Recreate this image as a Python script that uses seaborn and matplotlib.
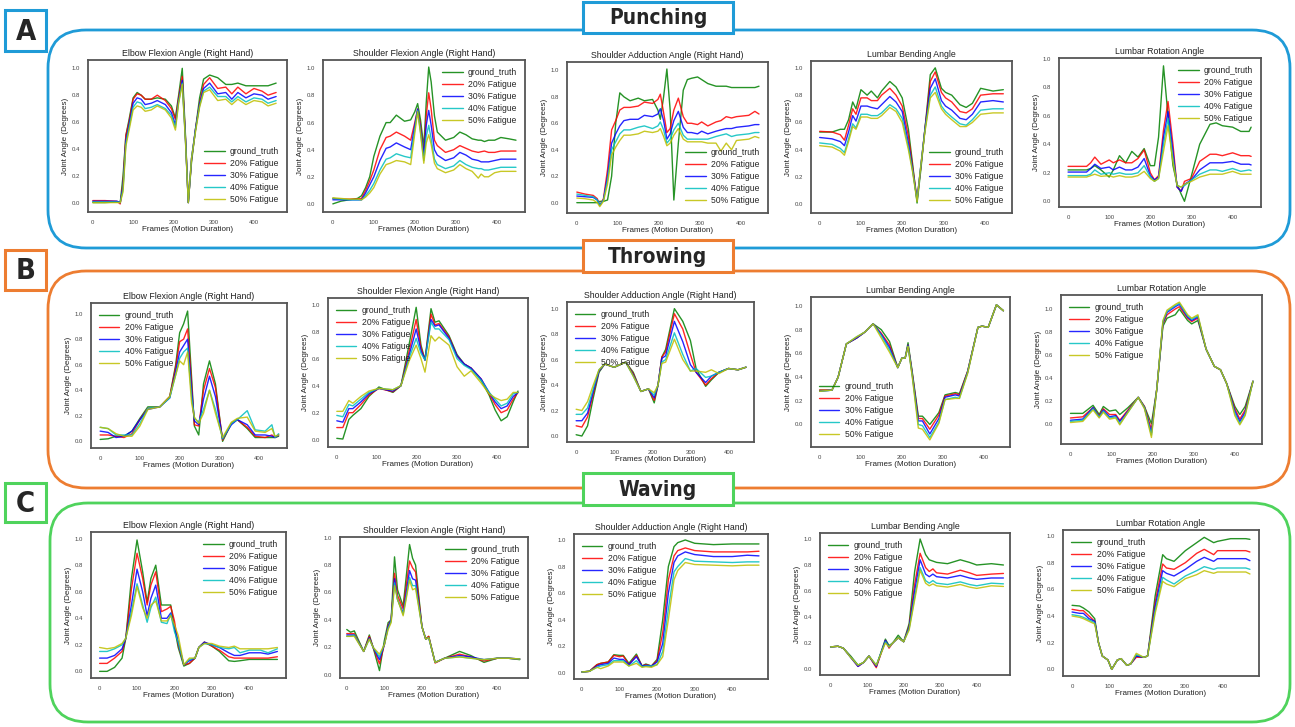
import numpy as np
import pandas as pd
import matplotlib
matplotlib.use("Agg")
import matplotlib.pyplot as plt
import seaborn as sns
from matplotlib.patches import FancyBboxPatch, Rectangle

# series shared by every panel
series_names = ["ground_truth", "20% Fatigue", "30% Fatigue", "40% Fatigue", "50% Fatigue"]
series_colors = ["green", "red", "blue", "c", "y"]
panel_titles = ["Elbow Flexion Angle (Right Hand)", "Shoulder Flexion Angle (Right Hand)",
                "Shoulder Adduction Angle (Right Hand)", "Lumbar Bending Angle", "Lumbar Rotation Angle"]
row_names = ["Punching", "Throwing", "Waving"]
row_letters = ["A", "B", "C"]

# ---------------- A: Punching ----------------
a1_x = [0, 30, 60, 68, 75, 82, 90, 100, 110, 120, 130, 145, 160, 180, 195, 205, 213, 222, 230, 237,
        245, 255, 265, 275, 290, 310, 330, 345, 360, 380, 400, 420, 435, 455]
a1_gt = [0.0, 0.0, 0.005, 0.0, 0.2, 0.5, 0.62, 0.78, 0.82, 0.80, 0.77, 0.77, 0.78, 0.77, 0.72, 0.63, 0.8, 1.0, 0.5, 0.0,
         0.3, 0.55, 0.78, 0.92, 0.95, 0.93, 0.88, 0.88, 0.89, 0.87, 0.87, 0.87, 0.87, 0.89]
a1_f20 = [0.015, 0.015, 0.01, -0.01, 0.15, 0.5, 0.6, 0.77, 0.81, 0.80, 0.77, 0.77, 0.80, 0.76, 0.70, 0.62, 0.78, 0.94, 0.48, 0.0,
          0.32, 0.55, 0.74, 0.88, 0.93, 0.85, 0.86, 0.81, 0.86, 0.81, 0.85, 0.83, 0.80, 0.82]
a1_f30 = [0.01, 0.01, 0.01, 0.0, 0.12, 0.46, 0.58, 0.74, 0.78, 0.77, 0.73, 0.74, 0.76, 0.73, 0.67, 0.58, 0.76, 0.91, 0.47, 0.0,
          0.33, 0.55, 0.73, 0.85, 0.89, 0.81, 0.82, 0.77, 0.82, 0.78, 0.81, 0.80, 0.77, 0.79]
a1_f40 = [0.005, 0.005, 0.005, 0.0, 0.10, 0.44, 0.56, 0.71, 0.75, 0.74, 0.70, 0.71, 0.73, 0.70, 0.65, 0.56, 0.75, 0.89, 0.46, 0.0,
          0.33, 0.54, 0.72, 0.83, 0.86, 0.79, 0.79, 0.75, 0.79, 0.75, 0.78, 0.77, 0.74, 0.76]
a1_f50 = [0.0, 0.0, 0.0, 0.0, 0.08, 0.42, 0.54, 0.69, 0.72, 0.71, 0.68, 0.69, 0.72, 0.69, 0.63, 0.54, 0.74, 0.88, 0.45, 0.0,
          0.33, 0.53, 0.71, 0.82, 0.84, 0.76, 0.77, 0.73, 0.77, 0.73, 0.76, 0.75, 0.72, 0.74]

a2_x = [0, 20, 40, 60, 70, 80, 90, 100, 115, 130, 140, 155, 175, 190, 200, 207, 214, 222, 228, 234,
        240, 248, 255, 275, 295, 310, 325, 340, 355, 362, 370, 380, 395, 410, 430, 447]
a2_gt = [0.0, 0.02, 0.03, 0.04, 0.06, 0.12, 0.20, 0.35, 0.50, 0.60, 0.60, 0.655, 0.61, 0.62, 0.68, 0.74, 0.62, 0.42, 0.75, 1.01,
         0.90, 0.65, 0.53, 0.47, 0.49, 0.53, 0.51, 0.48, 0.47, 0.47, 0.46, 0.47, 0.47, 0.49, 0.48, 0.47]
a2_f20 = [0.04, 0.035, 0.035, 0.035, 0.04, 0.10, 0.17, 0.25, 0.40, 0.49, 0.50, 0.53, 0.50, 0.47, 0.60, 0.70, 0.58, 0.36, 0.65, 0.82,
          0.70, 0.47, 0.43, 0.38, 0.40, 0.43, 0.41, 0.39, 0.38, 0.385, 0.39, 0.38, 0.38, 0.39, 0.39, 0.39]
a2_f30 = [0.03, 0.03, 0.03, 0.03, 0.03, 0.08, 0.14, 0.20, 0.32, 0.41, 0.42, 0.45, 0.42, 0.40, 0.58, 0.70, 0.55, 0.36, 0.58, 0.69,
          0.58, 0.40, 0.36, 0.32, 0.34, 0.38, 0.36, 0.33, 0.32, 0.31, 0.31, 0.31, 0.32, 0.33, 0.33, 0.33]
a2_f40 = [0.04, 0.035, 0.03, 0.03, 0.03, 0.06, 0.10, 0.15, 0.25, 0.33, 0.34, 0.37, 0.35, 0.34, 0.55, 0.69, 0.53, 0.32, 0.50, 0.58,
          0.48, 0.33, 0.29, 0.26, 0.28, 0.32, 0.29, 0.27, 0.26, 0.26, 0.25, 0.25, 0.26, 0.27, 0.27, 0.27]
a2_f50 = [0.045, 0.04, 0.035, 0.035, 0.03, 0.05, 0.08, 0.12, 0.22, 0.29, 0.30, 0.32, 0.31, 0.29, 0.52, 0.68, 0.52, 0.30, 0.45, 0.51,
          0.44, 0.30, 0.26, 0.23, 0.25, 0.29, 0.26, 0.24, 0.19, 0.22, 0.20, 0.20, 0.23, 0.24, 0.24, 0.24]

a3_x = [0, 20, 40, 50, 56, 65, 75, 85, 95, 105, 115, 130, 150, 165, 185, 198, 204, 212, 220, 228,
        237, 248, 260, 270, 280, 295, 305, 320, 340, 352, 365, 378, 390, 420, 435, 445]
a3_gt = [0.0, 0.0, 0.0, 0.0, 0.01, 0.01, 0.02, 0.20, 0.60, 0.83, 0.80, 0.77, 0.79, 0.77, 0.78, 0.70, 0.63, 0.80, 1.01, 0.70,
         0.02, 0.45, 0.85, 0.93, 0.94, 0.95, 0.93, 0.90, 0.88, 0.88, 0.88, 0.87, 0.87, 0.87, 0.87, 0.88]
a3_f20 = [0.08, 0.065, 0.055, 0.03, -0.02, 0.03, 0.25, 0.55, 0.62, 0.70, 0.72, 0.72, 0.73, 0.76, 0.75, 0.78, 0.82, 0.68, 0.53, 0.56,
          0.70, 0.79, 0.65, 0.60, 0.60, 0.59, 0.61, 0.58, 0.61, 0.62, 0.65, 0.64, 0.65, 0.66, 0.69, 0.67]
a3_f30 = [0.05, 0.045, 0.04, 0.02, -0.02, 0.02, 0.20, 0.45, 0.52, 0.58, 0.62, 0.63, 0.63, 0.66, 0.65, 0.67, 0.71, 0.62, 0.48, 0.52,
          0.62, 0.69, 0.57, 0.53, 0.53, 0.52, 0.54, 0.52, 0.54, 0.55, 0.56, 0.56, 0.57, 0.58, 0.59, 0.59]
a3_f40 = [0.065, 0.055, 0.045, 0.02, -0.02, 0.02, 0.17, 0.40, 0.46, 0.52, 0.55, 0.55, 0.57, 0.58, 0.56, 0.58, 0.61, 0.55, 0.45, 0.48,
          0.55, 0.60, 0.51, 0.48, 0.48, 0.48, 0.48, 0.48, 0.50, 0.51, 0.52, 0.50, 0.51, 0.52, 0.53, 0.53]
a3_f50 = [0.035, 0.03, 0.02, 0.0, -0.03, 0.01, 0.14, 0.36, 0.42, 0.47, 0.51, 0.51, 0.52, 0.54, 0.53, 0.54, 0.56, 0.50, 0.43, 0.45,
          0.51, 0.56, 0.48, 0.46, 0.46, 0.46, 0.46, 0.45, 0.45, 0.39, 0.45, 0.40, 0.47, 0.48, 0.50, 0.49]

a4_x = [0, 30, 50, 60, 70, 80, 88, 100, 115, 125, 140, 150, 170, 185, 200, 215, 225, 236, 245, 255,
        268, 280, 295, 305, 320, 340, 355, 370, 390, 420, 445]
a4_gt = [0.53, 0.53, 0.55, 0.55, 0.62, 0.75, 0.70, 0.84, 0.80, 0.83, 0.78, 0.83, 0.90, 0.86, 0.78, 0.55, 0.30, 0.01, 0.25, 0.55,
         0.95, 1.0, 0.85, 0.82, 0.80, 0.73, 0.71, 0.74, 0.85, 0.83, 0.84]
a4_f20 = [0.535, 0.53, 0.51, 0.47, 0.58, 0.70, 0.66, 0.78, 0.78, 0.76, 0.76, 0.80, 0.85, 0.80, 0.72, 0.50, 0.28, 0.04, 0.27, 0.55,
          0.90, 0.97, 0.82, 0.78, 0.75, 0.68, 0.67, 0.70, 0.80, 0.81, 0.81]
a4_f30 = [0.49, 0.48, 0.46, 0.43, 0.53, 0.65, 0.61, 0.72, 0.72, 0.71, 0.70, 0.73, 0.79, 0.75, 0.68, 0.45, 0.26, 0.03, 0.28, 0.55,
          0.85, 0.92, 0.76, 0.72, 0.69, 0.63, 0.62, 0.66, 0.75, 0.76, 0.75]
a4_f40 = [0.45, 0.44, 0.41, 0.38, 0.48, 0.59, 0.56, 0.66, 0.66, 0.65, 0.65, 0.67, 0.73, 0.70, 0.63, 0.42, 0.25, 0.03, 0.28, 0.54,
          0.80, 0.86, 0.72, 0.68, 0.64, 0.59, 0.58, 0.62, 0.69, 0.70, 0.70]
a4_f50 = [0.43, 0.42, 0.39, 0.36, 0.46, 0.57, 0.55, 0.64, 0.64, 0.63, 0.63, 0.65, 0.71, 0.68, 0.60, 0.40, 0.24, 0.02, 0.28, 0.53,
          0.78, 0.82, 0.70, 0.66, 0.62, 0.57, 0.57, 0.60, 0.66, 0.67, 0.67]

a5_x = [0, 45, 55, 65, 80, 100, 110, 125, 140, 155, 170, 185, 200, 210, 220, 232, 243, 255, 265, 275,
        283, 300, 320, 345, 360, 375, 400, 420, 440, 445]
a5_gt = [0.22, 0.22, 0.23, 0.25, 0.22, 0.17, 0.22, 0.32, 0.27, 0.35, 0.31, 0.37, 0.25, 0.25, 0.45, 0.95, 0.60, 0.25, 0.12, 0.05,
         0.0, 0.18, 0.40, 0.54, 0.55, 0.53, 0.52, 0.49, 0.49, 0.52]
a5_f20 = [0.245, 0.245, 0.27, 0.31, 0.26, 0.29, 0.27, 0.29, 0.27, 0.27, 0.30, 0.36, 0.20, 0.15, 0.18, 0.50, 0.70, 0.40, 0.10, 0.07,
          0.14, 0.16, 0.28, 0.33, 0.33, 0.32, 0.34, 0.32, 0.32, 0.315]
a5_f30 = [0.205, 0.205, 0.23, 0.26, 0.23, 0.24, 0.22, 0.24, 0.22, 0.22, 0.24, 0.30, 0.18, 0.15, 0.17, 0.45, 0.63, 0.35, 0.10, 0.07,
          0.12, 0.15, 0.22, 0.27, 0.27, 0.27, 0.28, 0.26, 0.26, 0.255]
a5_f40 = [0.18, 0.18, 0.19, 0.22, 0.19, 0.20, 0.19, 0.20, 0.19, 0.19, 0.20, 0.25, 0.17, 0.14, 0.16, 0.40, 0.58, 0.30, 0.11, 0.10,
          0.11, 0.15, 0.19, 0.22, 0.22, 0.21, 0.23, 0.21, 0.22, 0.215]
a5_f50 = [0.17, 0.17, 0.18, 0.19, 0.175, 0.18, 0.17, 0.18, 0.17, 0.17, 0.18, 0.21, 0.16, 0.14, 0.16, 0.35, 0.53, 0.28, 0.11, 0.10,
          0.12, 0.14, 0.17, 0.19, 0.19, 0.19, 0.21, 0.19, 0.19, 0.19]

# ---------------- B: Throwing ----------------
b1_x = [0, 20, 40, 60, 80, 100, 120, 150, 175, 190, 200, 210, 220, 230, 237, 248, 260, 275, 290, 308,
        330, 345, 370, 390, 415, 432, 440, 449]
b1_gt = [0.015, 0.02, 0.04, 0.04, 0.08, 0.18, 0.27, 0.27, 0.35, 0.60, 0.85, 0.92, 1.02, 0.50, 0.12, 0.05, 0.45, 0.63, 0.45, 0.0,
         0.14, 0.17, 0.10, 0.03, 0.03, 0.03, 0.03, 0.04]
b1_f20 = [0.05, 0.05, 0.04, 0.03, 0.06, 0.17, 0.26, 0.27, 0.35, 0.58, 0.78, 0.80, 0.88, 0.45, 0.13, 0.12, 0.40, 0.57, 0.42, 0.01,
          0.14, 0.17, 0.11, 0.04, 0.03, 0.05, 0.03, 0.05]
b1_f30 = [0.08, 0.07, 0.03, 0.04, 0.08, 0.17, 0.25, 0.27, 0.34, 0.55, 0.70, 0.75, 0.80, 0.40, 0.16, 0.13, 0.33, 0.51, 0.35, 0.02,
          0.13, 0.17, 0.13, 0.05, 0.05, 0.04, 0.03, 0.05]
b1_f40 = [0.11, 0.10, 0.05, 0.05, 0.05, 0.14, 0.26, 0.27, 0.34, 0.52, 0.65, 0.70, 0.73, 0.35, 0.18, 0.15, 0.25, 0.40, 0.25, 0.02,
          0.14, 0.17, 0.24, 0.09, 0.08, 0.13, 0.03, 0.06]
b1_f50 = [0.11, 0.10, 0.06, 0.04, 0.04, 0.12, 0.25, 0.27, 0.35, 0.52, 0.63, 0.60, 0.70, 0.30, 0.19, 0.14, 0.22, 0.40, 0.22, 0.03,
          0.15, 0.18, 0.19, 0.08, 0.07, 0.10, 0.04, 0.05]

b2_x = [0, 15, 30, 40, 60, 80, 105, 140, 160, 180, 198, 210, 220, 235, 245, 255, 280, 300, 318, 335,
        360, 380, 395, 410, 425, 440, 452]
b2_gt = [0.01, 0.005, 0.15, 0.18, 0.23, 0.32, 0.39, 0.35, 0.40, 0.70, 0.98, 0.70, 0.59, 0.97, 0.87, 0.88, 0.77, 0.63, 0.56, 0.53,
         0.44, 0.33, 0.22, 0.14, 0.17, 0.28, 0.36]
b2_f20 = [0.09, 0.09, 0.20, 0.20, 0.26, 0.33, 0.38, 0.355, 0.40, 0.65, 0.89, 0.68, 0.59, 0.93, 0.85, 0.86, 0.76, 0.62, 0.56, 0.53,
          0.45, 0.34, 0.26, 0.20, 0.22, 0.30, 0.35]
b2_f30 = [0.14, 0.13, 0.23, 0.23, 0.28, 0.34, 0.38, 0.36, 0.40, 0.62, 0.82, 0.66, 0.59, 0.89, 0.84, 0.85, 0.75, 0.62, 0.56, 0.53,
          0.45, 0.35, 0.28, 0.23, 0.25, 0.32, 0.35]
b2_f40 = [0.18, 0.17, 0.26, 0.25, 0.30, 0.35, 0.38, 0.37, 0.40, 0.60, 0.75, 0.64, 0.59, 0.87, 0.82, 0.82, 0.74, 0.60, 0.55, 0.52,
          0.44, 0.35, 0.30, 0.25, 0.27, 0.34, 0.35]
b2_f50 = [0.21, 0.21, 0.29, 0.27, 0.32, 0.36, 0.38, 0.37, 0.40, 0.58, 0.70, 0.60, 0.50, 0.77, 0.73, 0.76, 0.70, 0.54, 0.47, 0.51,
          0.42, 0.34, 0.31, 0.29, 0.30, 0.35, 0.35]

b3_x = [0, 15, 30, 45, 60, 75, 100, 130, 150, 170, 190, 205, 215, 225, 235, 258, 280, 300, 315, 340,
        355, 375, 400, 425, 446]
b3_gt = [0.01, 0.0, 0.08, 0.30, 0.50, 0.565, 0.54, 0.58, 0.50, 0.35, 0.37, 0.26, 0.40, 0.62, 0.68, 1.0, 0.90, 0.75, 0.53, 0.39,
         0.44, 0.50, 0.53, 0.52, 0.54]
b3_f20 = [0.08, 0.07, 0.15, 0.33, 0.51, 0.565, 0.54, 0.58, 0.49, 0.35, 0.37, 0.28, 0.40, 0.62, 0.66, 0.96, 0.84, 0.64, 0.50, 0.40,
          0.45, 0.50, 0.53, 0.52, 0.54]
b3_f30 = [0.12, 0.12, 0.18, 0.35, 0.51, 0.565, 0.54, 0.58, 0.48, 0.35, 0.37, 0.30, 0.40, 0.61, 0.63, 0.90, 0.74, 0.56, 0.50, 0.42,
          0.47, 0.50, 0.53, 0.52, 0.54]
b3_f40 = [0.17, 0.17, 0.22, 0.37, 0.52, 0.565, 0.54, 0.58, 0.47, 0.35, 0.37, 0.32, 0.40, 0.58, 0.60, 0.81, 0.64, 0.51, 0.53, 0.46,
          0.47, 0.50, 0.53, 0.52, 0.54]
b3_f50 = [0.21, 0.20, 0.27, 0.40, 0.52, 0.565, 0.54, 0.58, 0.47, 0.35, 0.37, 0.34, 0.40, 0.57, 0.58, 0.76, 0.60, 0.51, 0.51, 0.50,
          0.52, 0.49, 0.53, 0.52, 0.54]

b4_x = [0, 30, 45, 65, 90, 110, 130, 150, 170, 190, 200, 208, 215, 225, 240, 250, 268, 290, 305, 330,
        340, 360, 385, 395, 410, 430, 447]
b4_gt = [0.29, 0.29, 0.40, 0.68, 0.73, 0.78, 0.85, 0.80, 0.70, 0.48, 0.56, 0.56, 0.69, 0.45, 0.07, 0.07, 0.0, 0.10, 0.25, 0.27,
         0.26, 0.45, 0.82, 0.83, 0.82, 1.01, 0.96]
b4_f20 = [0.29, 0.29, 0.40, 0.68, 0.73, 0.78, 0.85, 0.77, 0.67, 0.48, 0.56, 0.56, 0.67, 0.44, 0.05, 0.05, -0.04, 0.08, 0.24, 0.26,
          0.25, 0.45, 0.82, 0.83, 0.82, 1.01, 0.96]
b4_f30 = [0.28, 0.29, 0.40, 0.68, 0.73, 0.78, 0.85, 0.76, 0.65, 0.48, 0.56, 0.56, 0.67, 0.43, 0.03, 0.03, -0.08, 0.05, 0.23, 0.25,
          0.24, 0.44, 0.82, 0.83, 0.82, 1.01, 0.96]
b4_f40 = [0.28, 0.29, 0.40, 0.68, 0.74, 0.78, 0.85, 0.75, 0.63, 0.48, 0.56, 0.56, 0.66, 0.42, 0.0, -0.01, -0.11, 0.02, 0.21, 0.23,
          0.22, 0.44, 0.82, 0.83, 0.82, 1.01, 0.96]
b4_f50 = [0.28, 0.29, 0.40, 0.68, 0.74, 0.78, 0.85, 0.73, 0.61, 0.48, 0.56, 0.56, 0.66, 0.41, -0.03, -0.04, -0.13, 0.01, 0.21, 0.22,
          0.22, 0.43, 0.82, 0.83, 0.82, 1.01, 0.96]

b5_x = [0, 30, 55, 70, 80, 95, 110, 120, 140, 165, 180, 197, 210, 225, 235, 255, 265, 285, 295, 310,
        330, 350, 365, 380, 400, 412, 425, 444]
b5_gt = [0.09, 0.09, 0.16, 0.08, 0.15, 0.11, 0.12, 0.08, 0.14, 0.23, 0.15, 0.0, 0.30, 0.85, 0.92, 0.95, 1.0, 0.90, 0.87, 0.90,
         0.65, 0.50, 0.47, 0.35, 0.15, 0.08, 0.15, 0.37]
b5_f20 = [0.05, 0.06, 0.14, 0.07, 0.13, 0.08, 0.08, 0.03, 0.12, 0.23, 0.15, -0.05, 0.30, 0.87, 0.95, 1.0, 1.02, 0.92, 0.89, 0.92,
          0.65, 0.50, 0.47, 0.35, 0.13, 0.04, 0.12, 0.37]
b5_f30 = [0.03, 0.04, 0.14, 0.06, 0.12, 0.06, 0.07, 0.02, 0.11, 0.23, 0.14, -0.08, 0.30, 0.88, 0.97, 1.02, 1.04, 0.93, 0.90, 0.93,
          0.65, 0.50, 0.47, 0.35, 0.11, 0.02, 0.10, 0.37]
b5_f40 = [0.02, 0.03, 0.13, 0.06, 0.11, 0.05, 0.06, 0.0, 0.10, 0.23, 0.14, -0.10, 0.30, 0.89, 0.98, 1.03, 1.05, 0.94, 0.91, 0.94,
          0.65, 0.50, 0.47, 0.35, 0.09, 0.0, 0.08, 0.37]
b5_f50 = [0.01, 0.02, 0.12, 0.05, 0.10, 0.04, 0.05, -0.01, 0.10, 0.23, 0.13, -0.12, 0.30, 0.90, 0.99, 1.04, 1.06, 0.95, 0.92, 0.95,
          0.65, 0.50, 0.47, 0.35, 0.07, -0.01, 0.07, 0.37]

# ---------------- C: Waving ----------------
c1_x = [0, 20, 40, 60, 70, 85, 100, 115, 127, 137, 150, 165, 180, 190, 200, 210, 225, 240, 255, 265,
        280, 300, 320, 345, 360, 375, 400, 430, 450, 475]
c1_gt = [0.0, 0.0, 0.03, 0.10, 0.25, 0.70, 0.99, 0.75, 0.52, 0.70, 0.80, 0.50, 0.50, 0.50, 0.33, 0.18, 0.04, 0.06, 0.10, 0.18,
         0.22, 0.19, 0.15, 0.08, 0.075, 0.08, 0.09, 0.09, 0.09, 0.09]
c1_f20 = [0.06, 0.06, 0.10, 0.15, 0.25, 0.62, 0.89, 0.70, 0.50, 0.65, 0.75, 0.45, 0.47, 0.49, 0.38, 0.20, 0.05, 0.06, 0.10, 0.18,
          0.22, 0.19, 0.16, 0.11, 0.10, 0.10, 0.10, 0.10, 0.10, 0.11]
c1_f30 = [0.10, 0.10, 0.12, 0.17, 0.25, 0.50, 0.77, 0.60, 0.42, 0.55, 0.65, 0.40, 0.40, 0.44, 0.33, 0.22, 0.05, 0.08, 0.10, 0.18,
          0.22, 0.20, 0.18, 0.14, 0.12, 0.12, 0.14, 0.14, 0.13, 0.15]
c1_f40 = [0.15, 0.15, 0.17, 0.20, 0.25, 0.45, 0.66, 0.50, 0.37, 0.48, 0.56, 0.37, 0.36, 0.43, 0.30, 0.22, 0.05, 0.09, 0.10, 0.18,
          0.21, 0.20, 0.18, 0.17, 0.18, 0.14, 0.16, 0.16, 0.14, 0.17]
c1_f50 = [0.18, 0.17, 0.18, 0.21, 0.25, 0.42, 0.64, 0.48, 0.40, 0.50, 0.53, 0.38, 0.38, 0.42, 0.35, 0.27, 0.05, 0.10, 0.10, 0.18,
          0.21, 0.21, 0.19, 0.18, 0.19, 0.17, 0.17, 0.17, 0.17, 0.18]

c2_x = [0, 10, 20, 45, 60, 70, 87, 100, 110, 118, 127, 135, 150, 167, 175, 183, 200, 210, 218, 235,
        260, 300, 330, 365, 400, 430, 460]
c2_gt = [0.33, 0.31, 0.32, 0.17, 0.29, 0.20, 0.03, 0.25, 0.38, 0.40, 0.86, 0.62, 0.50, 0.95, 0.85, 0.80, 0.35, 0.26, 0.28, 0.09,
         0.12, 0.17, 0.14, 0.09, 0.12, 0.12, 0.11]
c2_f20 = [0.30, 0.30, 0.30, 0.17, 0.28, 0.20, 0.08, 0.22, 0.36, 0.40, 0.74, 0.58, 0.48, 0.83, 0.78, 0.75, 0.35, 0.26, 0.28, 0.085,
          0.12, 0.15, 0.13, 0.10, 0.12, 0.12, 0.115]
c2_f30 = [0.29, 0.29, 0.29, 0.17, 0.27, 0.20, 0.11, 0.22, 0.35, 0.40, 0.70, 0.55, 0.45, 0.76, 0.70, 0.69, 0.35, 0.26, 0.27, 0.09,
          0.12, 0.14, 0.13, 0.11, 0.12, 0.12, 0.115]
c2_f40 = [0.28, 0.28, 0.29, 0.17, 0.26, 0.20, 0.13, 0.22, 0.34, 0.39, 0.67, 0.55, 0.44, 0.71, 0.65, 0.65, 0.35, 0.26, 0.27, 0.09,
          0.12, 0.13, 0.12, 0.11, 0.12, 0.12, 0.115]
c2_f50 = [0.28, 0.28, 0.28, 0.17, 0.26, 0.20, 0.15, 0.22, 0.33, 0.38, 0.65, 0.55, 0.43, 0.69, 0.62, 0.63, 0.35, 0.26, 0.27, 0.09,
          0.12, 0.13, 0.12, 0.11, 0.12, 0.12, 0.115]

c3_x = [0, 20, 40, 50, 70, 85, 100, 110, 125, 145, 160, 170, 185, 200, 215, 230, 245, 255, 275, 300,
        350, 400, 440, 471]
c3_gt = [0.005, 0.01, 0.06, 0.07, 0.08, 0.135, 0.13, 0.13, 0.07, 0.14, 0.05, 0.065, 0.05, 0.10, 0.40, 0.80, 0.95, 0.98, 1.0, 0.975,
         0.965, 0.97, 0.97, 0.97]
c3_f20 = [0.005, 0.01, 0.06, 0.07, 0.08, 0.13, 0.12, 0.125, 0.06, 0.13, 0.05, 0.06, 0.05, 0.09, 0.30, 0.70, 0.88, 0.92, 0.94, 0.92,
          0.91, 0.91, 0.91, 0.915]
c3_f30 = [0.005, 0.01, 0.05, 0.06, 0.07, 0.11, 0.10, 0.10, 0.06, 0.12, 0.05, 0.055, 0.05, 0.08, 0.22, 0.60, 0.83, 0.88, 0.91, 0.89,
          0.875, 0.875, 0.885, 0.88]
c3_f40 = [0.005, 0.01, 0.04, 0.05, 0.06, 0.09, 0.09, 0.09, 0.05, 0.09, 0.045, 0.05, 0.05, 0.06, 0.16, 0.48, 0.76, 0.80, 0.86, 0.84,
          0.835, 0.83, 0.835, 0.835]
c3_f50 = [0.005, 0.01, 0.04, 0.03, 0.05, 0.08, 0.08, 0.08, 0.05, 0.07, 0.04, 0.045, 0.04, 0.06, 0.12, 0.40, 0.70, 0.77, 0.83, 0.815,
          0.81, 0.805, 0.81, 0.81]

c4_x = [0, 20, 35, 55, 75, 90, 105, 125, 150, 160, 170, 185, 200, 215, 230, 245, 260, 270, 280, 290,
        320, 355, 380, 400, 440, 473]
c4_gt = [0.17, 0.175, 0.16, 0.10, 0.03, 0.05, 0.10, 0.02, 0.23, 0.18, 0.20, 0.26, 0.21, 0.35, 0.75, 1.0, 0.88, 0.84, 0.83, 0.82,
         0.81, 0.84, 0.82, 0.80, 0.81, 0.80]
c4_f20 = [0.17, 0.175, 0.16, 0.09, 0.02, 0.05, 0.10, 0.01, 0.22, 0.16, 0.20, 0.24, 0.21, 0.33, 0.65, 0.89, 0.78, 0.75, 0.77, 0.74,
          0.73, 0.76, 0.74, 0.72, 0.73, 0.735]
c4_f30 = [0.17, 0.175, 0.16, 0.09, 0.02, 0.05, 0.10, 0.02, 0.22, 0.17, 0.20, 0.24, 0.21, 0.32, 0.60, 0.84, 0.73, 0.71, 0.73, 0.71,
          0.70, 0.72, 0.70, 0.69, 0.70, 0.70]
c4_f40 = [0.17, 0.175, 0.16, 0.09, 0.03, 0.05, 0.10, 0.03, 0.21, 0.17, 0.20, 0.24, 0.21, 0.31, 0.55, 0.78, 0.68, 0.66, 0.68, 0.66,
          0.65, 0.67, 0.65, 0.64, 0.66, 0.655]
c4_f50 = [0.17, 0.175, 0.16, 0.09, 0.03, 0.05, 0.10, 0.03, 0.20, 0.17, 0.20, 0.24, 0.21, 0.30, 0.53, 0.76, 0.66, 0.64, 0.655, 0.64,
          0.63, 0.65, 0.63, 0.62, 0.64, 0.635]

c5_x = [0, 20, 30, 45, 60, 70, 80, 95, 105, 120, 130, 145, 155, 170, 190, 200, 220, 240, 250, 270,
        300, 330, 350, 375, 385, 420, 460, 471]
c5_gt = [0.48, 0.475, 0.46, 0.43, 0.38, 0.20, 0.10, 0.07, 0.0, 0.07, 0.08, 0.03, 0.04, 0.10, 0.09, 0.10, 0.55, 0.86, 0.83, 0.81,
         0.89, 0.95, 0.99, 0.95, 0.96, 0.98, 0.98, 0.975]
c5_f20 = [0.45, 0.44, 0.44, 0.40, 0.36, 0.20, 0.10, 0.07, 0.0, 0.07, 0.08, 0.03, 0.04, 0.09, 0.09, 0.10, 0.50, 0.79, 0.76, 0.75,
          0.80, 0.87, 0.90, 0.86, 0.89, 0.89, 0.89, 0.88]
c5_f30 = [0.43, 0.42, 0.42, 0.38, 0.36, 0.20, 0.10, 0.07, 0.0, 0.07, 0.08, 0.03, 0.04, 0.10, 0.09, 0.10, 0.47, 0.74, 0.72, 0.70,
          0.75, 0.81, 0.84, 0.81, 0.83, 0.83, 0.83, 0.815]
c5_f40 = [0.41, 0.40, 0.39, 0.37, 0.35, 0.20, 0.10, 0.07, 0.0, 0.07, 0.08, 0.03, 0.04, 0.11, 0.09, 0.10, 0.44, 0.69, 0.67, 0.64,
          0.70, 0.74, 0.77, 0.75, 0.76, 0.76, 0.76, 0.75]
c5_f50 = [0.40, 0.39, 0.38, 0.36, 0.34, 0.20, 0.10, 0.07, 0.0, 0.07, 0.08, 0.03, 0.04, 0.12, 0.09, 0.10, 0.42, 0.66, 0.64, 0.62,
          0.68, 0.71, 0.74, 0.72, 0.73, 0.73, 0.73, 0.715]

rows = [
    [(a1_x, [a1_gt, a1_f20, a1_f30, a1_f40, a1_f50]), (a2_x, [a2_gt, a2_f20, a2_f30, a2_f40, a2_f50]),
     (a3_x, [a3_gt, a3_f20, a3_f30, a3_f40, a3_f50]), (a4_x, [a4_gt, a4_f20, a4_f30, a4_f40, a4_f50]),
     (a5_x, [a5_gt, a5_f20, a5_f30, a5_f40, a5_f50])],
    [(b1_x, [b1_gt, b1_f20, b1_f30, b1_f40, b1_f50]), (b2_x, [b2_gt, b2_f20, b2_f30, b2_f40, b2_f50]),
     (b3_x, [b3_gt, b3_f20, b3_f30, b3_f40, b3_f50]), (b4_x, [b4_gt, b4_f20, b4_f30, b4_f40, b4_f50]),
     (b5_x, [b5_gt, b5_f20, b5_f30, b5_f40, b5_f50])],
    [(c1_x, [c1_gt, c1_f20, c1_f30, c1_f40, c1_f50]), (c2_x, [c2_gt, c2_f20, c2_f30, c2_f40, c2_f50]),
     (c3_x, [c3_gt, c3_f20, c3_f30, c3_f40, c3_f50]), (c4_x, [c4_gt, c4_f20, c4_f30, c4_f40, c4_f50]),
     (c5_x, [c5_gt, c5_f20, c5_f30, c5_f40, c5_f50])],
]

# layout in pixels: axes box (left, top, right, bottom), xlim, ylim, legend location
layout = [
    [((88, 60, 287, 212), (-12, 482), (-0.07, 1.062), "lower right"),
     ((323, 60, 525, 212), (-24, 469), (-0.06, 1.062), "upper right"),
     ((567, 62, 768, 213), (-24, 467), (-0.078, 1.063), "lower right"),
     ((811, 61, 1012, 213), (-21, 466), (-0.063, 1.05), "lower right"),
     ((1059, 58, 1261, 207), (-22, 469), (-0.04, 1.005), "upper right")],
    [((91, 303, 287, 448), (-23, 470), (-0.052, 1.083), "upper left"),
     ((328, 298, 528, 447), (-22, 477), (-0.054, 1.049), "upper left"),
     ((567, 302, 754, 442), (-24, 467), (-0.047, 1.052), "upper left"),
     ((811, 297, 1010, 447), (-21, 463), (-0.19, 1.076), "lower left"),
     ((1061, 295, 1262, 444), (-23, 466), (-0.177, 1.122), "upper left")],
    [((91, 532, 286, 678), (-23, 498), (-0.05, 1.05), "upper right"),
     ((340, 537, 528, 678), (-18, 482), (-0.024, 1.005), "upper right"),
     ((574, 534, 768, 679), (-21, 495), (-0.048, 1.045), "upper left"),
     ((820, 533, 1010, 675), (-29, 491), (-0.046, 1.046), "upper left"),
     ((1063, 530, 1259, 676), (-24, 495), (-0.05, 1.045), "upper left")],
]

frame_colors = ["#1f9bd7", "#ed7d31", "#4fd35c"]
frames = [(48, 30, 1290, 248), (48, 271, 1290, 488), (50, 503, 1290, 722)]
title_boxes = [(583, 2, 733, 33), (583, 240, 733, 272), (583, 473, 733, 505)]
letter_boxes = [(5, 10, 46, 51), (5, 250, 46, 290), (5, 483, 46, 522)]

sns.set_style("white")
plt.rcParams['font.family'] = ['Liberation Sans', 'DejaVu Sans']

W, H = 1295, 727
fig = plt.figure(figsize=(W / 100, H / 100), dpi=100)

# background layer for frames and labels, in pixel coords
bg = fig.add_axes([0, 0, 1, 1])
bg.set_xlim(0, W)
bg.set_ylim(H, 0)
bg.axis("off")

for i in range(3):
    col = frame_colors[i]
    l, t, r, b = frames[i]
    bg.add_patch(FancyBboxPatch((l, t), r - l, b - t, boxstyle="round,pad=0,rounding_size=38",
                                fill=False, ec=col, lw=2.0))
    l, t, r, b = title_boxes[i]
    bg.add_patch(Rectangle((l, t), r - l, b - t, fc="white", ec=col, lw=2.2, zorder=3))
    bg.text((l + r) / 2, (t + b) / 2 + 1, row_names[i], ha="center", va="center", fontsize=15,
            fontweight="bold", fontstretch="condensed", family=["DejaVu Sans"], zorder=4)
    l, t, r, b = letter_boxes[i]
    bg.add_patch(Rectangle((l, t), r - l, b - t, fc="white", ec=col, lw=2.2, zorder=3))
    bg.text((l + r) / 2, (t + b) / 2 + 1, row_letters[i], ha="center", va="center", fontsize=21,
            fontweight="bold", fontstretch="condensed", family=["DejaVu Sans"], zorder=4)

for i in range(3):
    for j in range(5):
        x, ys = rows[i][j]
        (l, t, r, b), xlim, ylim, loc = layout[i][j]
        ax = fig.add_axes([l / W, 1 - b / H, (r - l) / W, (b - t) / H])
        for y in ys:
            assert len(y) == len(x)
        df = pd.DataFrame({
            "frame": np.tile(x, len(ys)),
            "angle": np.concatenate(ys),
            "series": np.repeat(series_names, len(x)),
        })
        sns.lineplot(data=df, x="frame", y="angle", hue="series", hue_order=series_names,
                     palette=series_colors, estimator=None, sort=False, lw=1.0, alpha=0.85, ax=ax)
        sns.move_legend(ax, loc, title=None, frameon=False, fontsize=6.2, handlelength=2.4,
                        handletextpad=0.6, labelspacing=0.35)
        ax.set_xlim(*xlim)
        ax.set_ylim(*ylim)
        ax.set_xticks([0, 100, 200, 300, 400])
        ax.set_yticks([0.0, 0.2, 0.4, 0.6, 0.8, 1.0])
        ax.set_yticklabels(["0.0", "0.2", "0.4", "0.6", "0.8", "1.0"])
        ax.tick_params(labelsize=4.3, pad=2, colors="#444444")
        ax.set_title(panel_titles[j], fontsize=6.3, pad=3, color="#222222")
        ax.set_xlabel("Frames (Motion Duration)", fontsize=5.8, labelpad=1, color="#222222")
        ax.set_ylabel("Joint Angle (Degrees)", fontsize=5.8, labelpad=2, color="#222222")
        for sp in ax.spines.values():
            sp.set_color("#555555")
            sp.set_linewidth(1.3)

fig.savefig("out.png", dpi=100)
